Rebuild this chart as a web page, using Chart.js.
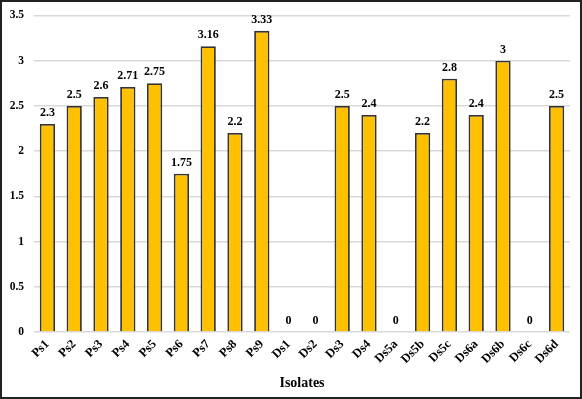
<!DOCTYPE html>
<html><head><meta charset="utf-8">
<script src="https://cdn.jsdelivr.net/npm/chart.js@4"></script>
<style>
html,body{margin:0;padding:0;background:#fff;}
#wrap{width:582px;height:399px;box-sizing:border-box;border:2px solid #222;position:relative;}
#c{display:block;}
</style></head>
<body>
<div id="wrap"><canvas id="c" width="578" height="395"></canvas></div>
<script>
const categories = ["Ps1","Ps2","Ps3","Ps4","Ps5","Ps6","Ps7","Ps8","Ps9","Ds1","Ds2","Ds3","Ds4","Ds5a","Ds5b","Ds5c","Ds6a","Ds6b","Ds6c","Ds6d"];
const values = [2.3,2.5,2.6,2.71,2.75,1.75,3.16,2.2,3.33,0,0,2.5,2.4,0,2.2,2.8,2.4,3,0,2.5];
const yTicks = [0,0.5,1,1.5,2,2.5,3,3.5];
const axisTitle = "Isolates";

const FONT = "'Liberation Serif','Times New Roman',serif";

const valueLabels = {
  id: 'valueLabels',
  afterDatasetsDraw(chart) {
    const ctx = chart.ctx;
    const meta = chart.getDatasetMeta(0);
    ctx.save();
    ctx.font = "bold 12px " + FONT;
    ctx.fillStyle = "#000";
    ctx.textAlign = "center";
    ctx.textBaseline = "bottom";
    meta.data.forEach((bar, i) => {
      ctx.fillText(String(values[i]), bar.x, bar.y - 5);
    });
    ctx.restore();
  }
};

new Chart(document.getElementById('c'), {
  type: 'bar',
  data: {
    labels: categories,
    datasets: [{
      data: values,
      backgroundColor: '#FFC000',
      borderColor: '#333333',
      borderWidth: 1.8,
      barPercentage: 0.57,
      categoryPercentage: 1.0
    }]
  },
  options: {
    responsive: false,
    animation: false,
    layout: { padding: { top: 13.5, right: 10, left: 0, bottom: 5 } },
    plugins: { legend: { display: false }, tooltip: { enabled: false } },
    scales: {
      x: {
        grid: { display: false, drawTicks: false },
        border: { display: false },
        ticks: {
          color: '#000',
          font: { family: FONT, size: 12.5, weight: 'bold' },
          maxRotation: 45, minRotation: 45, padding: 5, autoSkip: false
        },
        title: {
          display: true, text: axisTitle, color: '#000',
          font: { family: FONT, size: 14, weight: 'bold' },
          padding: { top: 4, bottom: 0 }
        },
        afterFit(s) { s.height = 60; }
      },
      y: {
        min: 0, max: 3.5,
        grid: { color: '#d9d9d9', lineWidth: 1.5, drawTicks: false },
        border: { display: false },
        afterBuildTicks(s) { s.ticks = yTicks.map(v => ({ value: v })); },
        ticks: {
          color: '#000',
          font: { family: FONT, size: 11.5, weight: 'bold' },
          padding: 10,
          callback: v => String(v)
        },
        afterFit(s) { s.width = 32; s.paddingTop = 0; s.paddingBottom = 0; }
      }
    }
  },
  plugins: [valueLabels]
});
</script>
</body></html>
